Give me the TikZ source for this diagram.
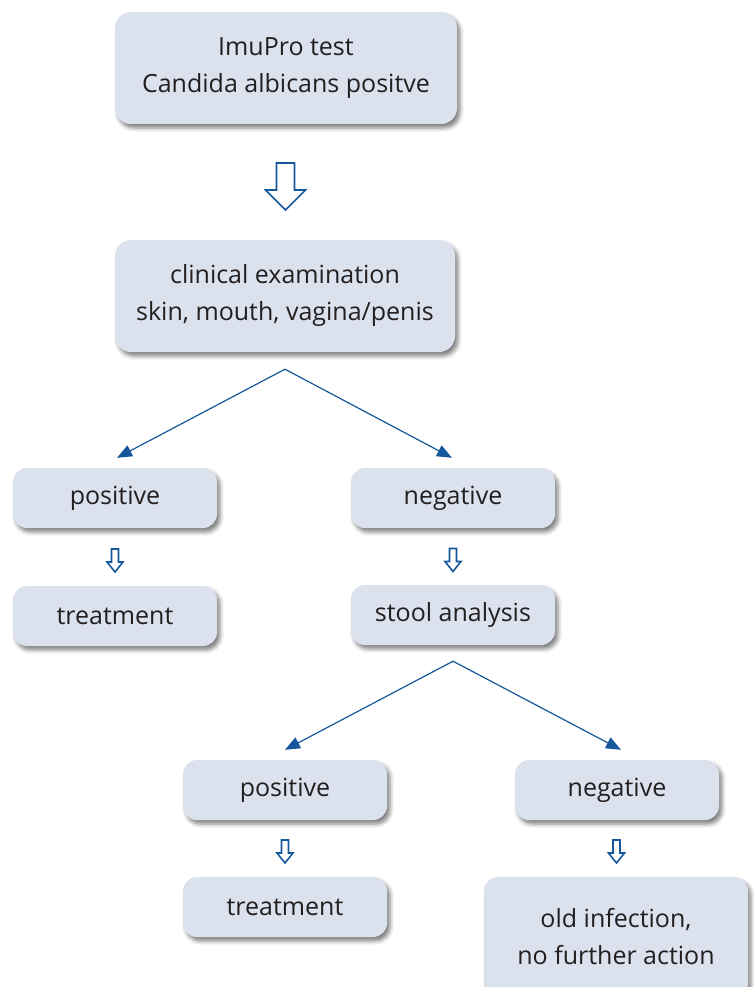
\documentclass[tikz,border=0pt]{standalone}
\usepackage{fontspec}
\setmainfont{Open Sans}
\usetikzlibrary{arrows.meta,calc,shadows.blur}

\definecolor{boxfill}{HTML}{DCE1EE}
\definecolor{arrowblue}{HTML}{15579B}
\definecolor{textgray}{HTML}{231F20}

% hollow down arrow between two boxes: from, to, half length, half shaft, half head, head length, shift down
\newcommand{\hollowdown}[7]{%
  \coordinate (#1-#2) at ($(#1.south)!.5!(#2.north)+(0pt,-#7)$);
  \draw[hollow] ($(#1-#2)+(-#4,#3)$) -- ($(#1-#2)+(#4,#3)$) -- ($(#1-#2)+(#4,-#3+#6)$)
    -- ($(#1-#2)+(#5,-#3+#6)$) -- ($(#1-#2)+(0pt,-#3)$) -- ($(#1-#2)+(-#5,-#3+#6)$)
    -- ($(#1-#2)+(-#4,-#3+#6)$) -- cycle;}

\begin{document}
\begin{tikzpicture}[x=1pt,y=-1pt,
    box/.style ={rounded corners=16pt, fill=boxfill, align=center, text=textgray,
      font=\fontsize{25}{37}\selectfont,
      blur shadow={shadow xshift=3pt, shadow yshift=-4pt, shadow blur radius=4pt, shadow opacity=50}},
    bigbox/.style ={box, minimum width=342pt, minimum height=112pt},
    smallbox/.style ={box, minimum width=204pt, minimum height=60pt, rounded corners=14pt},
    fork/.style ={draw=arrowblue, line width=1.2pt, -{Triangle[length=15pt,width=12pt]}},
    hollow/.style ={draw=arrowblue, line width=1.6pt, line join=miter, fill=white}]
   \useasboundingbox (0,0) rectangle (754,987);
   \clip (0,0) rectangle (754,987);
   \node[bigbox] (test) at (286,68) {ImuPro test\\Candida albicans positve};
   \node[bigbox, minimum width=340pt] (exam) at (285,296) {clinical examination\\skin, mouth, vagina/penis};
   \node[smallbox] (pos) at (115,498) {positive};
   \node[smallbox] (neg) at (453,498) {negative};
   \node[smallbox] (treat) at (115,616) {treatment};
   \node[smallbox] (stool) at (453,615) {stool analysis};
   \node[smallbox] (spos) at (285,790) {positive};
   \node[smallbox] (sneg) at (617,790) {negative};
   \node[smallbox] (streat) at (285,907) {treatment};
   \node[smallbox, minimum width=264pt, minimum height=120pt] (old) at (616,937) {old infection,\\no further action};
   \hollowdown{test}{exam}{23.5pt}{9pt}{20pt}{20pt}{4.5pt}
   \hollowdown{pos}{treat}{11.5pt}{3.5pt}{8pt}{10pt}{3.5pt}
   \hollowdown{neg}{stool}{11.5pt}{3.5pt}{8pt}{10pt}{3.5pt}
   \hollowdown{spos}{streat}{11.5pt}{3.5pt}{8pt}{10pt}{3pt}
   \hollowdown{sneg}{old}{11.5pt}{3.5pt}{8pt}{10pt}{3pt}
   \coordinate (split) at ($(exam.south)+(0,17)$);
   \coordinate (split2) at ($(stool.south)+(0,16)$);
   \draw[fork] (split) to ($(pos.north)+(2,-10)$);
   \draw[fork] (split) to ($(neg.north)+(-1,-10)$);
   \draw[fork] (split2) to ($(spos.north)+(0,-10)$);
   \draw[fork] (split2) to ($(sneg.north)+(4,-10)$);
\end{tikzpicture}
\end{document}
